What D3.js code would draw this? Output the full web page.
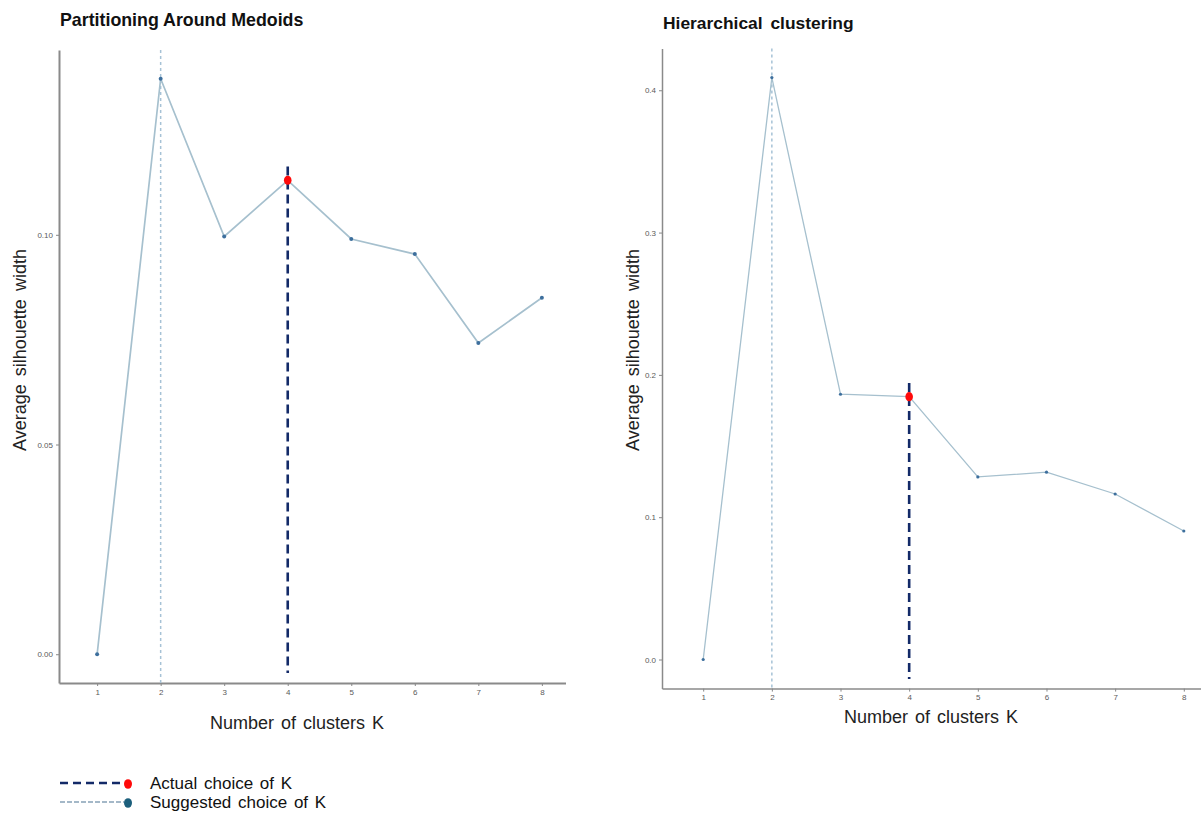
<!DOCTYPE html>
<html>
<head>
<meta charset="utf-8">
<script src="https://cdn.jsdelivr.net/npm/d3@7"></script>
<style>
  body { margin: 0; background: #fff; }
  text { font-family: "Liberation Sans", Arial, sans-serif; }
</style>
</head>
<body>
<div id="chart"></div>
<script>
// data
var ks = [1, 2, 3, 4, 5, 6, 7, 8];
var pamSil = [0, 0.1372, 0.0996, 0.1130, 0.0990, 0.0954, 0.0742, 0.0850];
var hcSil = [0, 0.4089, 0.1864, 0.1847, 0.1283, 0.1316, 0.1163, 0.0903];
var pamTicks = [0, 0.05, 0.10];
var hcTicks = [0, 0.1, 0.2, 0.3, 0.4];
var suggestedK = 2;
var actualK = 4;
var pamActualSeg = [0.1163, -0.0045];
var hcActualSeg = [0.1943, -0.0137];
var legendLabels = ["Actual choice of K", "Suggested choice of K"];

var width = 1201,
    height = 814;

var svg = d3.select("#chart")
    .append("svg")
    .attr("width", width)
    .attr("height", height);

function panel(opt) {
    var g = svg.append("g");

    // the left plot is cut off on its right side in the original
    var clipId = "clip" + opt.id;
    svg.append("clipPath").attr("id", clipId)
        .append("rect")
        .attr("x", 0).attr("y", 0)
        .attr("width", opt.clipRight).attr("height", height);
    g.attr("clip-path", "url(#" + clipId + ")");

    var lo = d3.min(opt.values), hi = d3.max(opt.values);
    var pad = (hi - lo) * 0.05;
    var y = d3.scaleLinear()
        .domain([lo - pad, hi + pad])
        .range([opt.bottom, opt.top]);

    var x = d3.scaleLinear()
        .domain([0.4, 8.6])
        .range([opt.left, opt.right]);

    // axes
    var yAxis = g.append("g")
        .attr("transform", "translate(" + opt.left + ",0)")
        .call(d3.axisLeft(y).tickValues(opt.ticks).tickFormat(d3.format(opt.fmt)).tickSize(3).tickSizeOuter(0));
    var xAxis = g.append("g")
        .attr("transform", "translate(0," + opt.bottom + ")")
        .call(d3.axisBottom(x).tickValues(ks).tickFormat(d3.format("d")).tickSize(3).tickSizeOuter(0));

    [yAxis, xAxis].forEach(function (a) {
        a.select(".domain").attr("stroke", "#8a8a8a").attr("stroke-width", opt.axisW);
        a.selectAll(".tick line").attr("stroke", "#888");
        a.selectAll(".tick text")
            .attr("fill", "#5a5a5a")
            .style("font-size", "8px")
            .style("font-family", "'Liberation Sans Narrow', 'Liberation Sans', Arial, sans-serif");
    });

    // suggested K (dotted, full height)
    g.append("line")
        .attr("x1", x(suggestedK)).attr("x2", x(suggestedK))
        .attr("y1", opt.top).attr("y2", opt.bottom)
        .attr("stroke", "#a6c2d6")
        .attr("stroke-width", 1.5)
        .attr("stroke-dasharray", "3,3");

    // line
    var line = d3.line()
        .x(function (d, i) { return x(ks[i]); })
        .y(function (d) { return y(d); });

    g.append("path")
        .datum(opt.values)
        .attr("fill", "none")
        .attr("stroke", "#a6c0ce")
        .attr("stroke-width", opt.lineW)
        .attr("d", line);

    g.selectAll("circle.pt")
        .data(opt.values)
        .enter()
        .append("circle")
        .attr("class", "pt")
        .attr("cx", function (d, i) { return x(ks[i]); })
        .attr("cy", function (d) { return y(d); })
        .attr("r", opt.ptR)
        .attr("fill", "#3d6f9d");

    // actual K (dashed segment, drawn from the top down)
    g.append("line")
        .attr("x1", x(actualK)).attr("x2", x(actualK))
        .attr("y1", y(opt.seg[0])).attr("y2", y(opt.seg[1]))
        .attr("stroke", "#132a68")
        .attr("stroke-width", 2.6)
        .attr("stroke-dasharray", "9,5");

    g.append("ellipse")
        .attr("cx", x(actualK))
        .attr("cy", y(opt.values[ks.indexOf(actualK)]))
        .attr("rx", 3.8).attr("ry", 4.6)
        .attr("fill", "#ff0a0a");

    // titles
    svg.append("text")
        .attr("x", opt.left + 1).attr("y", opt.titleY)
        .style("font-size", opt.titleSize)
        .style("font-weight", "bold")
        .style("word-spacing", opt.titleWS)
        .attr("fill", "#111")
        .text(opt.title);

    svg.append("text")
        .attr("transform", "translate(" + opt.yTitleX + "," + opt.yTitleY + ") rotate(-90)")
        .attr("text-anchor", "middle")
        .style("font-size", "18px")
        .style("word-spacing", "3px")
        .attr("fill", "#222")
        .text("Average silhouette width");

    svg.append("text")
        .attr("x", opt.xTitleX).attr("y", opt.xTitleY)
        .attr("text-anchor", "middle")
        .style("font-size", "18px")
        .style("word-spacing", "2px")
        .attr("fill", "#222")
        .text("Number of clusters K");
}

panel({
    id: "pam", values: pamSil, ticks: pamTicks, fmt: ".2f", seg: pamActualSeg,
    left: 59, right: 580, clipRight: 566, top: 50, bottom: 683,
    axisW: 2, lineW: 1.7, ptR: 2,
    title: "Partitioning Around Medoids", titleY: 26, titleSize: "17.8px", titleWS: "0px",
    yTitleX: 26, yTitleY: 350, xTitleX: 297, xTitleY: 729
});

panel({
    id: "hc", values: hcSil, ticks: hcTicks, fmt: ".1f", seg: hcActualSeg,
    left: 662, right: 1225, clipRight: width, top: 48.5, bottom: 688.6,
    axisW: 1.5, lineW: 1.3, ptR: 1.6,
    title: "Hierarchical clustering", titleY: 29, titleSize: "17.4px", titleWS: "3px",
    yTitleX: 639, yTitleY: 350, xTitleX: 931, xTitleY: 723
});

// legend
var legend = svg.append("g");
var legendY = [783, 802];
var legendDash = [
    { stroke: "#132a68", dash: "8,5", w: 2.6, dot: "#ff0a0a" },
    { stroke: "#a4b8c8", dash: "5,2", w: 2, dot: "#1c5f7c" }
];
legendLabels.forEach(function (lab, i) {
    legend.append("line")
        .attr("x1", 60).attr("x2", 124)
        .attr("y1", legendY[i]).attr("y2", legendY[i])
        .attr("stroke", legendDash[i].stroke)
        .attr("stroke-width", legendDash[i].w)
        .attr("stroke-dasharray", legendDash[i].dash);
    legend.append("ellipse")
        .attr("cx", 128).attr("cy", legendY[i] + 1)
        .attr("rx", 4).attr("ry", 4.8)
        .attr("fill", legendDash[i].dot);
    legend.append("text")
        .attr("x", 150).attr("y", legendY[i] + 6)
        .style("font-size", "17px")
        .style("word-spacing", "2px")
        .attr("fill", "#111")
        .text(lab);
});
</script>
</body>
</html>
